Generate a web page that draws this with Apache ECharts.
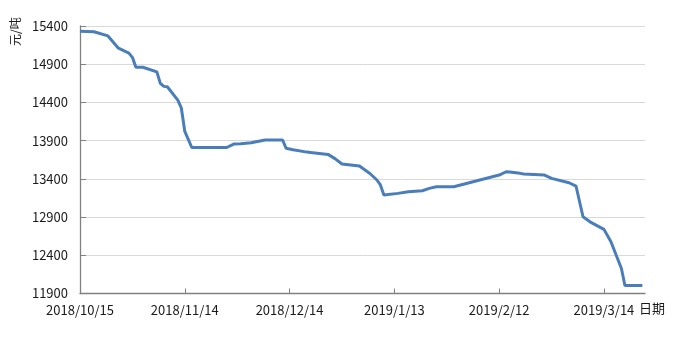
<!DOCTYPE html>
<html>
<head>
<meta charset="utf-8">
<script src="https://cdn.jsdelivr.net/npm/echarts@6/dist/echarts.min.js"></script>
<style>
html,body{margin:0;padding:0;background:#fff;}
#chart{width:678px;height:338px;}
</style>
</head>
<body>
<div id="chart"></div>
<script>
// Data
var dates = [
  '2018/10/15','2018/10/19','2018/10/23','2018/10/26','2018/10/29','2018/10/30','2018/10/31',
  '2018/11/2','2018/11/6','2018/11/7','2018/11/8','2018/11/9','2018/11/12','2018/11/13','2018/11/14',
  '2018/11/16','2018/11/26','2018/11/28','2018/11/30','2018/12/3','2018/12/7','2018/12/12','2018/12/13',
  '2018/12/15','2018/12/19','2018/12/20','2018/12/25','2018/12/27','2018/12/29','2019/1/3','2019/1/6',
  '2019/1/8','2019/1/9','2019/1/10','2019/1/14','2019/1/17','2019/1/21','2019/1/23','2019/1/25',
  '2019/1/30','2019/2/12','2019/2/14','2019/2/15','2019/2/18','2019/2/19','2019/2/25','2019/2/27',
  '2019/3/4','2019/3/6','2019/3/8','2019/3/10','2019/3/14','2019/3/16','2019/3/19','2019/3/20','2019/3/25'
];
var prices = [
  15330,15325,15270,15110,15045,14990,14860,
  14860,14800,14650,14610,14605,14430,14330,14020,
  13810,13810,13855,13860,13872,13908,13908,13800,
  13780,13750,13745,13720,13665,13595,13567,13470,
  13385,13320,13190,13210,13231,13244,13275,13296,
  13296,13450,13493,13490,13472,13463,13450,13406,
  13349,13306,12904,12838,12739,12577,12228,12005,12005
];
var xTickLabels = ['2018/10/15','2018/11/14','2018/12/14','2019/1/13','2019/2/12','2019/3/14'];
var yMin = 11900, yMax = 15400, yStep = 500;
var xUnit = '日期', yUnit = '元/吨';

var DAY = 86400000;
function toTs(s){ var p = s.split('/'); return Date.UTC(+p[0], +p[1]-1, +p[2]); }
var t0 = toTs(dates[0]);
function dayIdx(s){ return Math.round((toTs(s) - t0) / DAY); }
function fmt(d){ var dt = new Date(t0 + d*DAY); return dt.getUTCFullYear()+'/'+(dt.getUTCMonth()+1)+'/'+dt.getUTCDate(); }
var tickDays = xTickLabels.map(dayIdx);
var seriesData = dates.map(function(d,i){ return [dayIdx(d), prices[i]]; });

var chart = echarts.init(document.getElementById('chart'), null, {renderer:'canvas'});
var font = '"Noto Sans CJK SC","Noto Sans",sans-serif';
chart.setOption({
  animation:false,
  grid:{left:80, right:33, top:26, bottom:44.5, containLabel:false},
  xAxis:{
    type:'value', min:0, max:161.75, interval:30,
    axisLine:{show:true, lineStyle:{color:'#808080', width:1.3}},
    axisTick:{show:true, inside:true, length:5, customValues:tickDays, lineStyle:{color:'#808080'}},
    axisLabel:{customValues:tickDays, formatter:function(v){ return fmt(v); }, color:'#1a1a1a', fontSize:13, fontFamily:font, margin:10},
    splitLine:{show:false}
  },
  yAxis:{
    type:'value', min:yMin, max:yMax, interval:yStep,
    axisLine:{show:true, lineStyle:{color:'#808080', width:1.3}},
    axisTick:{show:true, inside:true, length:6, lineStyle:{color:'#808080'}},
    axisLabel:{color:'#1a1a1a', fontSize:13, fontFamily:font, margin:12, formatter:function(v){ return String(v); }},
    splitLine:{show:true, lineStyle:{color:'#d9d9d9', width:1}}
  },
  graphic:[
    {type:'text', left:639, top:302, style:{text:xUnit, fill:'#1a1a1a', font:'13px '+font}},
    {type:'text', x:9, y:46, rotation:Math.PI/2, style:{text:yUnit, fill:'#1a1a1a', font:'12px '+font}}
  ],
  series:[{
    type:'line', data:seriesData, showSymbol:false, symbol:'none',
    lineStyle:{color:'#4a7ebb', width:3}, z:3
  }]
});
</script>
</body>
</html>
